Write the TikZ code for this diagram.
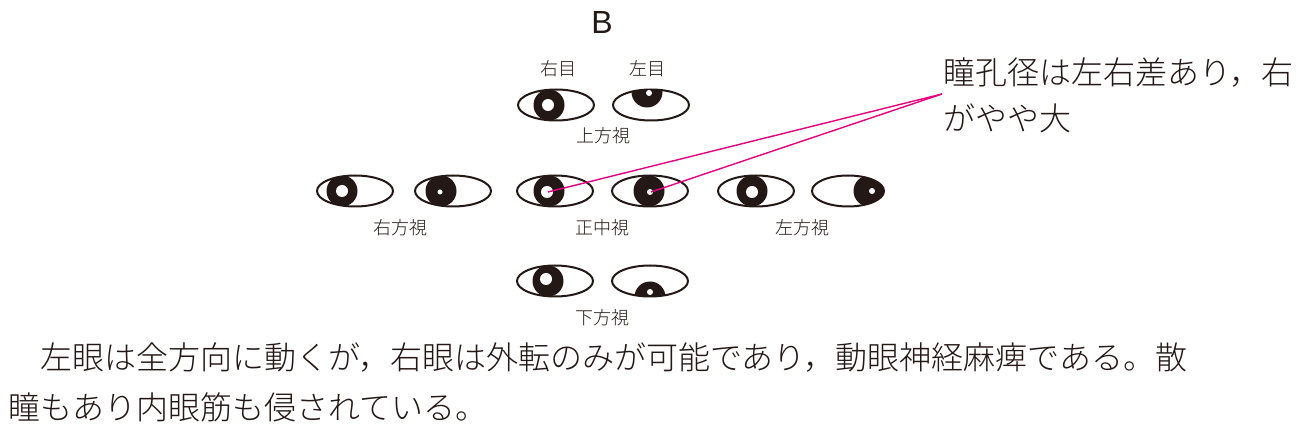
\documentclass[tikz,border=0pt]{standalone}
\usepackage{fontspec}
\setmainfont{Liberation Sans}
\newfontfamily\jpfont{Noto Sans CJK JP Light}
\definecolor{ink}{HTML}{231815}
\definecolor{leader}{HTML}{E4007F}
\tikzset{
  bigtext/.style={font=\jpfont\fontsize{32}{38}\selectfont, text=ink, inner sep=0pt, anchor=base west},
  viewlabel/.style={font=\jpfont\fontsize{18}{20}\selectfont, text=ink, inner sep=0pt, anchor=base},
  eyeline/.style={draw=ink, line width=2pt},
  leaderline/.style={draw=leader, line width=1.4pt},
}
% #1,#2 eye centre; #3,#4 iris centre; #5,#6 pupil centre; #7 pupil radius; #8 x radius
\newcommand{\drawEyeW}[8]{%
  \begin{scope}
    \clip (#1,#2) ellipse [x radius=#8pt, y radius=15.5pt];
    \fill[ink] (#3,#4) circle [radius=15.5pt];
  \end{scope}
  \draw[eyeline] (#1,#2) ellipse [x radius=#8pt, y radius=15.5pt];
  \fill[white] (#5,#6) circle [radius=#7pt];
}
\newcommand{\drawEye}[7]{\drawEyeW{#1}{#2}{#3}{#4}{#5}{#6}{#7}{38}}
\begin{document}
\begin{tikzpicture}[x=1pt,y=-1pt]
\fill[white] (0,0) rectangle (1309,435);
\useasboundingbox (0,0) rectangle (1309,435);

\node[font=\fontsize{32}{36}\selectfont, text=ink, inner sep=0pt, anchor=base] (title) at (602,33.5) {B};

% top row
\node[viewlabel] (lblR) at (558,76) {右目};
\node[viewlabel] (lblL) at (647,76) {左目};
\drawEye{556}{105}{549}{105}{548}{105}{6}
\drawEye{651}{105}{647}{92}{649}{93}{3}
\node[viewlabel] (up) at (603,143) {上方視};

% middle row
\drawEye{355}{191}{342}{191}{342}{191}{6}
\drawEye{453}{191}{441}{191}{440}{192}{2.5}
\drawEye{555}{191}{549}{191}{547}{192}{6}
\drawEye{650}{191}{649}{191}{650}{192}{3}
\drawEye{756}{191}{752}{191}{752}{192}{6}
\drawEyeW{848}{191}{869}{191}{872}{191}{3}{36}
\node[viewlabel] (rightview) at (400,235) {右方視};
\node[viewlabel] (center) at (602,235) {正中視};
\node[viewlabel] (leftview) at (802,235) {左方視};

% bottom row
\drawEye{555}{281}{548}{281}{546}{279}{6}
\drawEye{650}{281}{650}{297}{650}{292}{3}
\node[viewlabel] (down) at (602,325) {下方視};

% annotation
\node[bigtext] (note1) at (943,85) {瞳孔径は左右差あり，右};
\node[bigtext] (note2) at (943,131) {がやや大};
\coordinate (tip) at (942,94);
\coordinate (pupilR) at (548,192);
\coordinate (pupilL) at (651,192);
\draw[leaderline] (tip) -- (pupilR);
\draw[leaderline] (tip) -- (pupilL);

% caption
\node[bigtext] (cap1) at (8,370) {　左眼は全方向に動くが，右眼は外転のみが可能であり，動眼神経麻痺である。散};
\node[bigtext] (cap2) at (8,419) {瞳もあり内眼筋も侵されている。};
\end{tikzpicture}
\end{document}
